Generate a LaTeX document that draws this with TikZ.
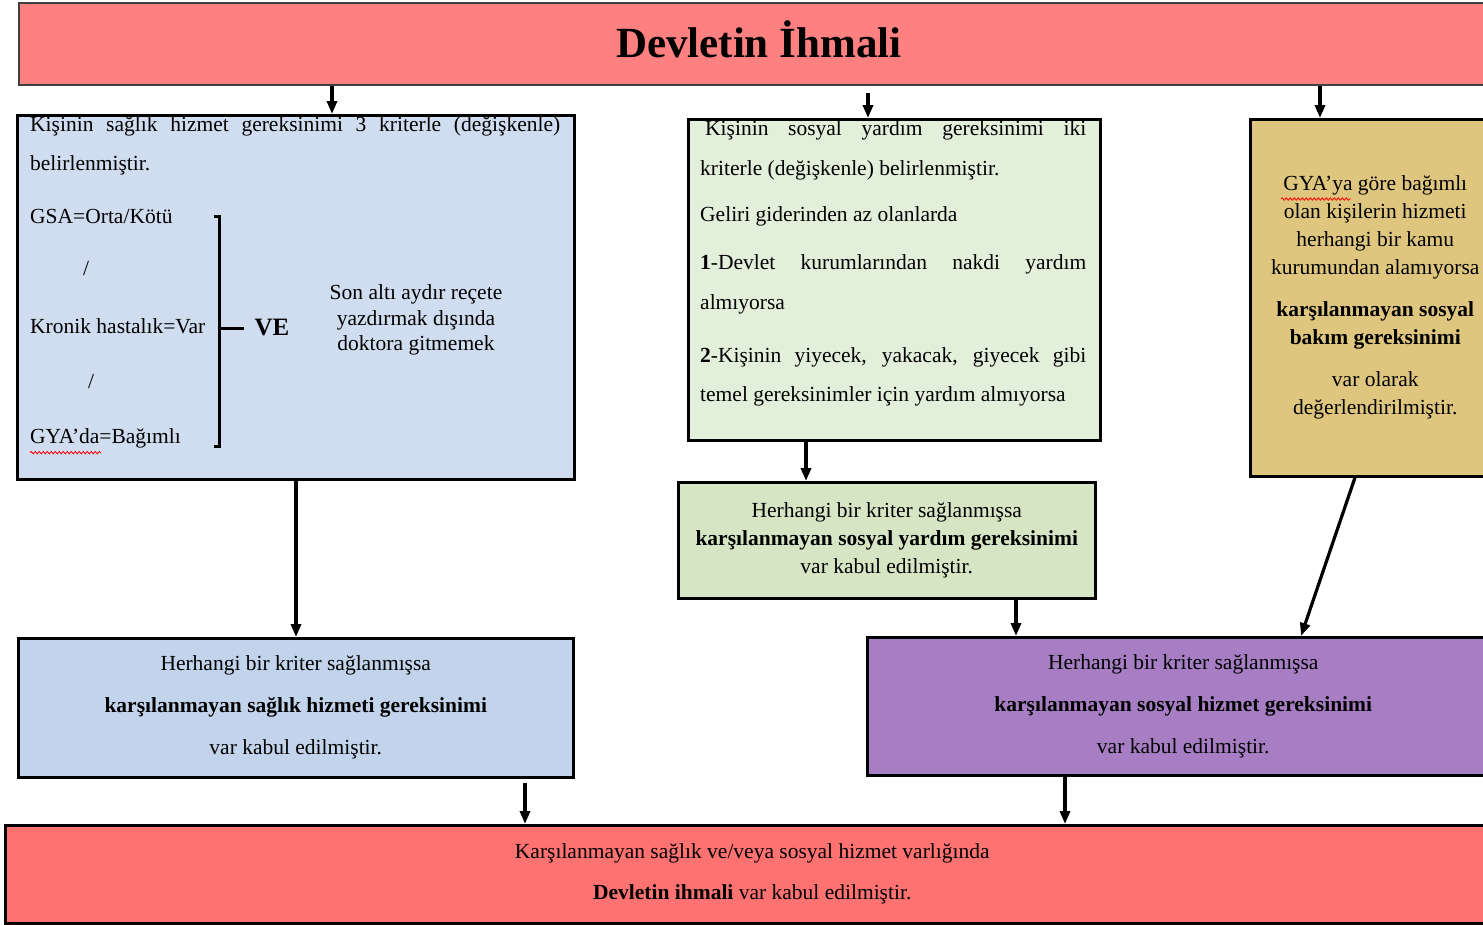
\documentclass[tikz,border=0pt]{standalone}
\usepackage{fontspec}
\setmainfont{Liberation Serif}
\usetikzlibrary{arrows.meta,decorations.pathmorphing}

\definecolor{ustkirmizi}{RGB}{255,128,128}
\definecolor{altkirmizi}{RGB}{255,114,114}
\definecolor{acikmavi}{RGB}{208,220,239}
\definecolor{koyumavi}{RGB}{194,211,236}
\definecolor{acikyesil}{RGB}{226,239,218}
\definecolor{koyuyesil}{RGB}{214,230,196}
\definecolor{hardal}{RGB}{223,198,127}
\definecolor{mor}{RGB}{167,126,195}

\begin{document}
\begin{tikzpicture}[x=1pt,y=-1pt]
    \tikzset{kutu/.style={draw=black, line width=2.5pt, anchor=north west, inner sep=0pt, align=center},
        satir/.style={anchor=west, inner sep=0pt, yshift=-3pt, font=\fontsize{21.5}{26}\selectfont, text height=14pt, text depth=5pt},
        ok/.style={-{Triangle[length=13pt,width=10pt]}, line width=3.2pt},
        dalga/.style={draw=red, line width=0.8pt, decorate, decoration={snake, amplitude=1.2pt, segment length=4pt}},
        parantez/.style={line width=3pt}}
    \useasboundingbox (0,0) rectangle (1483,924);

    % ust baslik
    \node[kutu, fill=ustkirmizi, draw=black!75, line width=1.5pt, minimum width=1480pt, minimum height=82pt,
        font=\bfseries\fontsize{43}{50}\selectfont, text depth=10pt] (ust) at (18,2) {Devletin İhmali};

    % saglik hizmeti
    \node[kutu, fill=acikmavi, minimum width=557pt, minimum height=364pt] (saglik) at (16,114) {};
    \node[satir] (s1) at (30,124) {\makebox[530pt][s]{Kişinin sağlık hizmet gereksinimi 3 kriterle (değişkenle)}};
    \node[satir] (s2) at (30,163) {belirlenmiştir.};
    \node[satir] (s3) at (30,216) {GSA=Orta/Kötü};
    \node[satir] (s4) at (83,268) {/};
    \node[satir] (s5) at (30,326) {Kronik hastalık=Var};
    \node[satir] (s6) at (88,381) {/};
    \node[satir] (s7) at (30,436) {GYA’da=Bağımlı};
    \draw[dalga] ([yshift=-4pt]s7.south west) -- ++(71,0);
    \draw[parantez] (214,216) -- (219,216) -- (219,446) -- (214,446);
    \draw[parantez] (219,328) -- (244,328);
    \node[font=\bfseries\fontsize{25}{30}\selectfont] (ve) at (272,327) {VE};
    \node[font=\fontsize{21.5}{25.5}\selectfont, align=center] (recete) at (416,320)
        {Son altı aydır reçete\\yazdırmak dışında\\doktora gitmemek};

    % sosyal yardim
    \node[kutu, fill=acikyesil, minimum width=412pt, minimum height=321pt] (yardim) at (687,118) {};
    \node[satir] (y1) at (705,128) {\makebox[381pt][s]{Kişinin sosyal yardım gereksinimi iki}};
    \node[satir] (y2) at (700,168) {kriterle (değişkenle) belirlenmiştir.};
    \node[satir] (y3) at (700,214) {Geliri giderinden az olanlarda};
    \node[satir] (y4) at (700,262) {\makebox[386pt][s]{\textbf{1}-Devlet kurumlarından nakdi yardım}};
    \node[satir] (y5) at (700,302) {almıyorsa};
    \node[satir] (y6) at (700,355) {\makebox[386pt][s]{\textbf{2}-Kişinin yiyecek, yakacak, giyecek gibi}};
    \node[satir] (y7) at (700,394) {temel gereksinimler için yardım almıyorsa};

    % sosyal bakim
    \node[kutu, fill=hardal, minimum width=250pt, minimum height=357pt, font=\fontsize{21.5}{28}\selectfont] (bakim) at (1249,118)
        {GYA’ya göre bağımlı\\olan kişilerin hizmeti\\herhangi bir kamu\\kurumundan alamıyorsa\\[14pt]
         \textbf{karşılanmayan sosyal}\\\textbf{bakım gereksinimi}\\[14pt]var olarak\\değerlendirilmiştir.};
    \draw[dalga] (1281,199) -- (1351,199);

    % sonuclar
    \node[kutu, fill=koyuyesil, minimum width=417pt, minimum height=116pt, font=\fontsize{21.5}{28}\selectfont] (yardimsonuc) at (677,481)
        {Herhangi bir kriter sağlanmışsa\\\textbf{karşılanmayan sosyal yardım gereksinimi}\\var kabul edilmiştir.};
    \node[kutu, fill=koyumavi, minimum width=555pt, minimum height=139pt, font=\fontsize{21.5}{42}\selectfont] (sagliksonuc) at (17,637)
        {Herhangi bir kriter sağlanmışsa\\\textbf{karşılanmayan sağlık hizmeti gereksinimi}\\var kabul edilmiştir.};
    \node[kutu, fill=mor, minimum width=632pt, minimum height=138pt, font=\fontsize{21.5}{42}\selectfont] (sosyalsonuc) at (866,636)
        {Herhangi bir kriter sağlanmışsa\\\textbf{karşılanmayan sosyal hizmet gereksinimi}\\var kabul edilmiştir.};
    \node[kutu, fill=altkirmizi, minimum width=1494pt, minimum height=98pt, font=\fontsize{21.5}{41}\selectfont] (ihmal) at (4,824)
        {Karşılanmayan sağlık ve/veya sosyal hizmet varlığında\\\textbf{Devletin ihmali} var kabul edilmiştir.};

    % oklar
    \coordinate (x1) at (332,0);
    \coordinate (x2) at (868,93);
    \coordinate (x3) at (1320,0);
    \coordinate (x4) at (296,0);
    \coordinate (x5) at (806,0);
    \coordinate (x6) at (1016,0);
    \coordinate (x7) at (1065,0);
    \coordinate (x8) at (1355,0);
    \coordinate (x9) at (1301,0);
    \coordinate (serbest) at (525,783);
    \draw[ok] (ust.south -| x1) -- (saglik.north -| x1);
    \draw[ok] (x2) -- (yardim.north -| x2);
    \draw[ok] (ust.south -| x3) -- (bakim.north -| x3);
    \draw[ok] (saglik.south -| x4) -- (sagliksonuc.north -| x4);
    \draw[ok] (yardim.south -| x5) -- (yardimsonuc.north -| x5);
    \draw[ok] (yardimsonuc.south -| x6) -- (sosyalsonuc.north -| x6);
    \draw[ok] (bakim.south -| x8) -- (sosyalsonuc.north -| x9);
    \draw[ok] (serbest) -- (ihmal.north -| serbest);
    \draw[ok] (sosyalsonuc.south -| x7) -- (ihmal.north -| x7);
\end{tikzpicture}
\end{document}
